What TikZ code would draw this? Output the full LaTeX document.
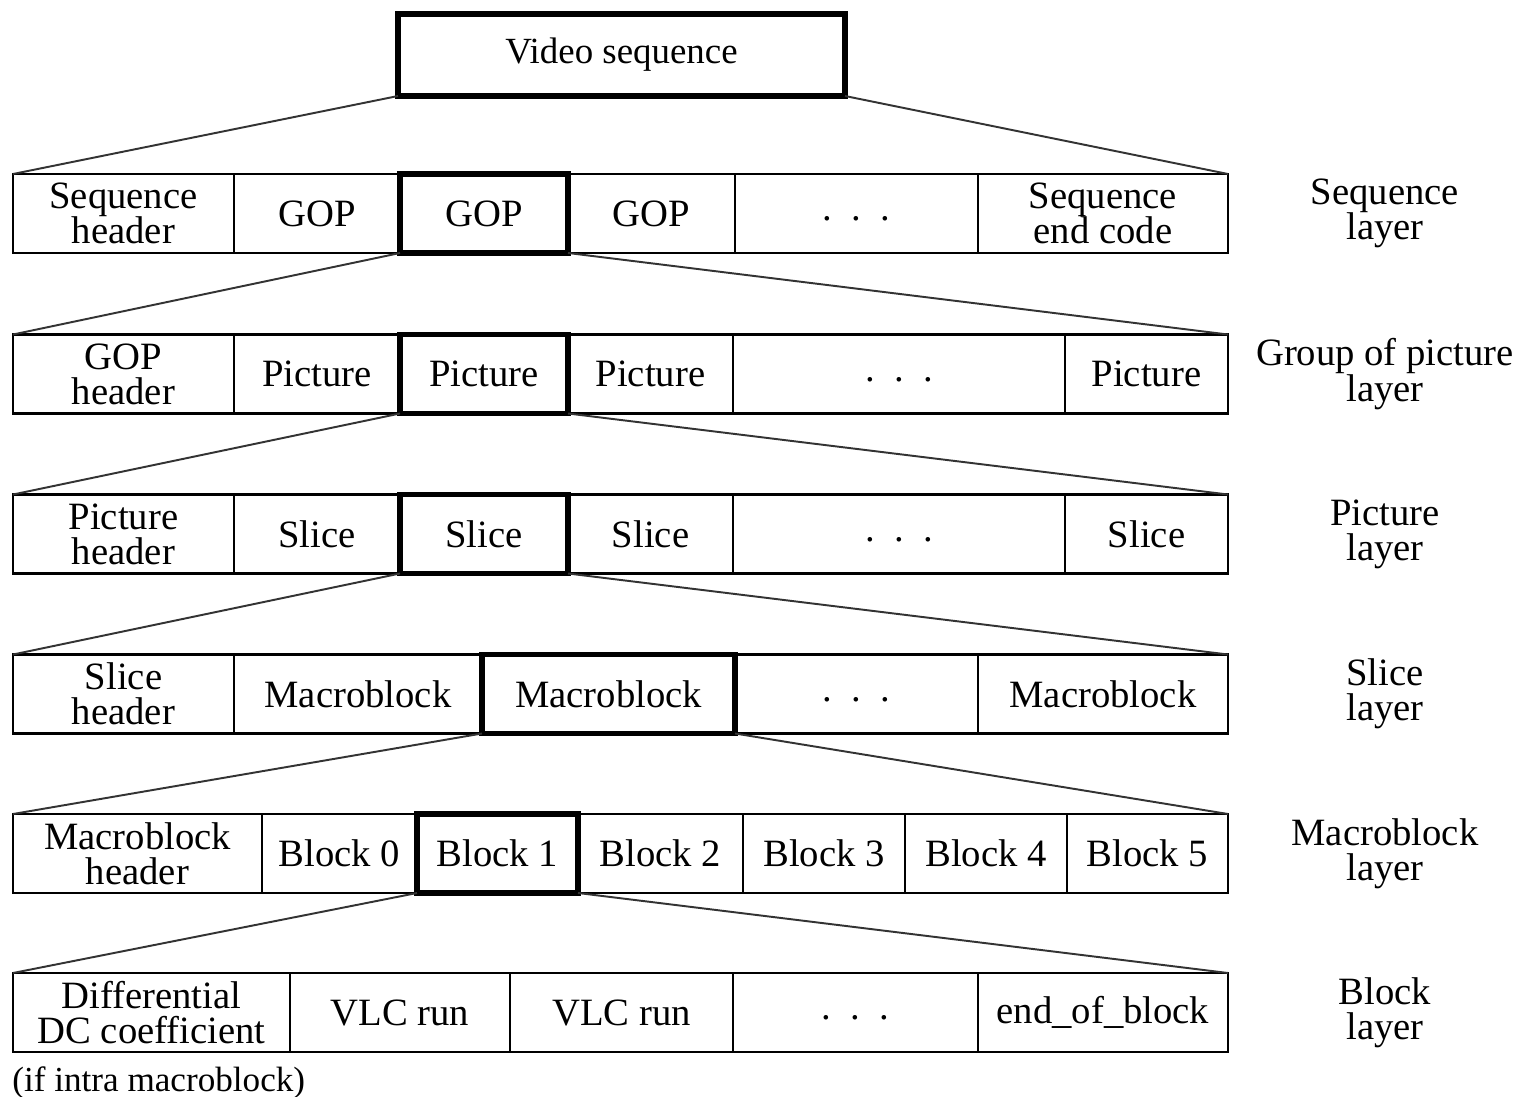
\documentclass[tikz,border=0pt]{standalone}
\usepackage{fontspec}
\setmainfont{Liberation Serif}
\usepackage{tikz}
\usetikzlibrary{positioning}

\tikzset{
  cell/.style={draw=black, line width=1.4pt, minimum height=1.58cm, inner sep=0pt,
    outer sep=0pt, align=center, font=\fontsize{22}{20}\selectfont},
  pick/.style={cell, line width=3.4pt},
  layer/.style={align=center, font=\fontsize{22}{20}\selectfont},
  link/.style={draw=black!80, line width=1.1pt}
}
\newcommand{\gapdots}{\strut.\ \ .\ \ .}

\begin{document}
\begin{tikzpicture}
    \useasboundingbox (0,0) rectangle (30.38,-21.94);
    % top box
    \node[pick, minimum width=8.94cm, minimum height=1.64cm, font=\fontsize{21}{20}\selectfont] (vs) at (12.43,-1.1) {Video sequence};
    % sequence layer
    \node[cell, minimum width=4.42cm, anchor=west] (s1) at (0.26,-4.27) {Sequence\\header};
    \node[cell, minimum width=3.32cm, right=0pt of s1] (s2) {GOP};
    \node[pick, minimum width=3.36cm, right=0pt of s2] (s3) {GOP};
    \node[cell, minimum width=3.34cm, right=0pt of s3] (s4) {GOP};
    \node[cell, minimum width=4.86cm, right=0pt of s4] (s5) {\gapdots};
    \node[cell, minimum width=5.00cm, right=0pt of s5] (s6) {Sequence\\end code};
    \node[layer] (seqlay) at (27.7,-4.27) {Sequence\\layer};
    % group of picture layer
    \node[cell, minimum width=4.42cm, anchor=west] (g1) at (0.26,-7.48) {GOP\\header};
    \node[cell, minimum width=3.32cm, right=0pt of g1] (g2) {Picture};
    \node[pick, minimum width=3.36cm, right=0pt of g2] (g3) {Picture};
    \node[cell, minimum width=3.30cm, right=0pt of g3] (g4) {Picture};
    \node[cell, minimum width=6.64cm, right=0pt of g4] (g5) {\gapdots};
    \node[cell, minimum width=3.26cm, right=0pt of g5] (g6) {Picture};
    \node[layer] (goplay) at (27.7,-7.48) {Group of picture\\layer};
    % picture layer
    \node[cell, minimum width=4.42cm, anchor=west] (p1) at (0.26,-10.68) {Picture\\header};
    \node[cell, minimum width=3.32cm, right=0pt of p1] (p2) {Slice};
    \node[pick, minimum width=3.36cm, right=0pt of p2] (p3) {Slice};
    \node[cell, minimum width=3.30cm, right=0pt of p3] (p4) {Slice};
    \node[cell, minimum width=6.64cm, right=0pt of p4] (p5) {\gapdots};
    \node[cell, minimum width=3.26cm, right=0pt of p5] (p6) {Slice};
    \node[layer] (piclay) at (27.7,-10.68) {Picture\\layer};
    % slice layer
    \node[cell, minimum width=4.42cm, anchor=west] (l1) at (0.26,-13.88) {Slice\\header};
    \node[cell, minimum width=4.96cm, right=0pt of l1] (l2) {Macroblock};
    \node[pick, minimum width=5.06cm, right=0pt of l2] (l3) {Macroblock};
    \node[cell, minimum width=4.86cm, right=0pt of l3] (l4) {\gapdots};
    \node[cell, minimum width=5.00cm, right=0pt of l4] (l5) {Macroblock};
    \node[layer] (slilay) at (27.7,-13.88) {Slice\\layer};
    % macroblock layer
    \node[cell, minimum width=4.98cm, anchor=west] (m1) at (0.26,-17.07) {Macroblock\\header};
    \node[cell, minimum width=3.10cm, right=0pt of m1] (m2) {Block 0};
    \node[pick, minimum width=3.22cm, right=0pt of m2] (m3) {Block 1};
    \node[cell, minimum width=3.30cm, right=0pt of m3] (m4) {Block 2};
    \node[cell, minimum width=3.24cm, right=0pt of m4] (m5) {Block 3};
    \node[cell, minimum width=3.24cm, right=0pt of m5] (m6) {Block 4};
    \node[cell, minimum width=3.22cm, right=0pt of m6] (m7) {Block 5};
    \node[layer] (maclay) at (27.7,-17.07) {Macroblock\\layer};
    % block layer
    \node[cell, minimum width=5.54cm, anchor=west] (b1) at (0.26,-20.25) {Differential\\DC coefficient};
    \node[cell, minimum width=4.40cm, right=0pt of b1] (b2) {VLC run};
    \node[cell, minimum width=4.46cm, right=0pt of b2] (b3) {VLC run};
    \node[cell, minimum width=4.90cm, right=0pt of b3] (b4) {\gapdots};
    \node[cell, minimum width=5.00cm, right=0pt of b4] (b5) {end\_of\_block};
    \node[layer] (blklay) at (27.7,-20.25) {Block\\layer};
    \node[anchor=west, inner sep=0pt, font=\fontsize{20}{20}\selectfont] (intra) at (0.24,-21.66) {(if intra macroblock)};
    % redraw picked boxes on top
    \foreach \n in {s3,g3,p3,l3,m3}
      \draw[line width=3.4pt] (\n.north west) rectangle (\n.south east);
    % fan-out lines
    \draw[link] (vs.south west) -- (s1.north west);
    \draw[link] (vs.south east) -- (s6.north east);
    \draw[link] (s3.south west) -- (g1.north west);
    \draw[link] (s3.south east) -- (g6.north east);
    \draw[link] (g3.south west) -- (p1.north west);
    \draw[link] (g3.south east) -- (p6.north east);
    \draw[link] (p3.south west) -- (l1.north west);
    \draw[link] (p3.south east) -- (l5.north east);
    \draw[link] (l3.south west) -- (m1.north west);
    \draw[link] (l3.south east) -- (m7.north east);
    \draw[link] (m3.south west) -- (b1.north west);
    \draw[link] (m3.south east) -- (b5.north east);
\end{tikzpicture}
\end{document}
